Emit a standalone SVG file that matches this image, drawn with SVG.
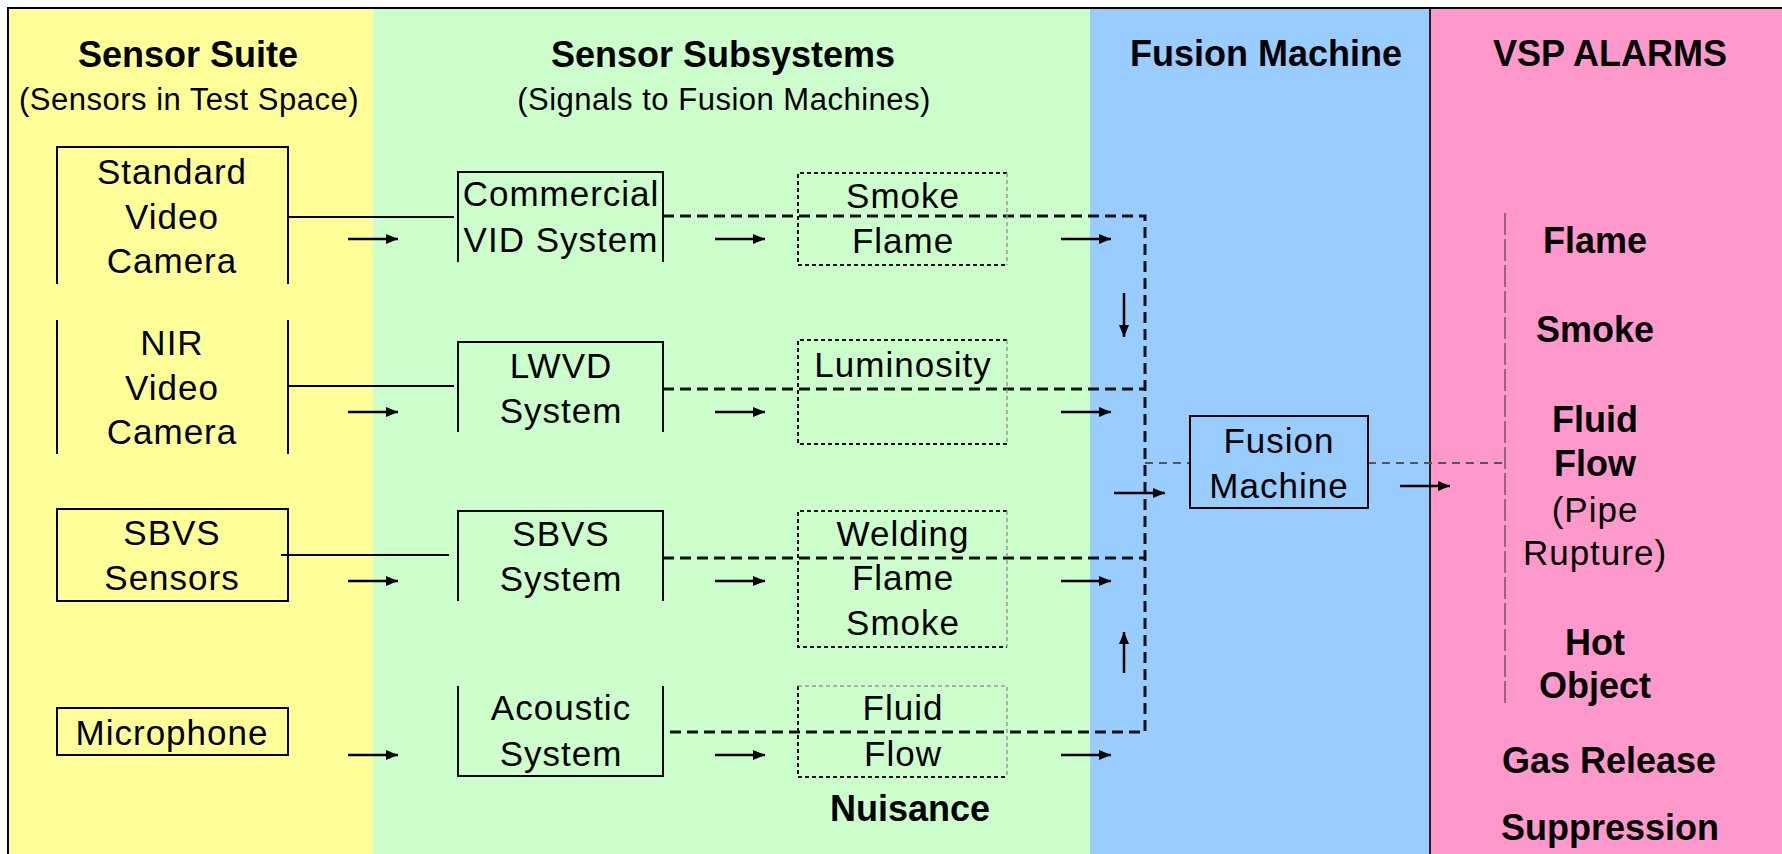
<svg xmlns="http://www.w3.org/2000/svg" width="1782" height="854" viewBox="0 0 1782 854">
  <style>
    text { font-family: "Liberation Sans", Arial, sans-serif; fill: #000; text-anchor: middle; }
    .h { font-size: 36px; font-weight: bold; }
    .sub { font-size: 31px; letter-spacing: 0.5px; }
    .t { font-size: 35px; letter-spacing: 1px; }
    .a { font-size: 36px; font-weight: bold; }
    .box { fill: none; stroke: #000; stroke-width: 2; }
    .dot { fill: none; stroke: #111; stroke-width: 2; stroke-dasharray: 4 3; }
    .dotl { fill: none; stroke: #9a9a9a; stroke-width: 1.5; stroke-dasharray: 4 3; }
    .wire { fill: none; stroke: #000; stroke-width: 2; }
    .dash { fill: none; stroke: #111; stroke-width: 3; stroke-dasharray: 11 6; }
    .gdash { fill: none; stroke: #555; stroke-width: 2; stroke-dasharray: 8 6; }
    .dd { fill: none; stroke: #333; stroke-width: 1; stroke-dasharray: 22 4; }
    .arr { fill: none; stroke: #000; stroke-width: 2.5; marker-end: url(#head); }
  </style>
  <defs>
    <marker id="head" markerUnits="userSpaceOnUse" markerWidth="12" markerHeight="10" refX="12" refY="5" orient="auto">
      <path d="M0,0 L12,5 L0,10 z" fill="#000"/>
    </marker>
  </defs>

  <!-- background bands -->
  <g id="bands">
    <rect x="8" y="8" width="365" height="860" fill="#FFFF99"/>
    <rect x="373" y="8" width="717" height="860" fill="#CCFFCC"/>
    <rect x="1090" y="8" width="340" height="860" fill="#99CCFF"/>
    <rect x="1430" y="8" width="360" height="860" fill="#FF99CC"/>
    <line x1="1430" y1="8" x2="1430" y2="860" stroke="#222" stroke-width="2"/>
    <rect x="8" y="8" width="1790" height="860" fill="none" stroke="#000" stroke-width="2"/>
  </g>

  <!-- column headings -->
  <g id="headings">
    <text class="h" x="188" y="67">Sensor Suite</text>
    <text class="sub" x="189" y="110">(Sensors in Test Space)</text>
    <text class="h" x="723" y="67">Sensor Subsystems</text>
    <text class="sub" x="724" y="110">(Signals to Fusion Machines)</text>
    <text class="h" x="1266" y="66">Fusion Machine</text>
    <text class="h" x="1610" y="66">VSP ALARMS</text>
  </g>

  <!-- connectors -->
  <g id="connectors">
    <line class="wire" x1="288" y1="217" x2="454" y2="217"/>
    <line class="wire" x1="288" y1="386" x2="454" y2="386"/>
    <line class="wire" x1="281" y1="555" x2="449" y2="555"/>

    <path class="dash" d="M663,216 H1145 V732 H663"/>
    <path class="dash" d="M663,389 H1145"/>
    <path class="dash" d="M663,558 H1145"/>

    <path class="gdash" d="M1145,463 H1190"/>
    <path class="gdash" d="M1368,463 H1505"/>
    <path class="dd" d="M1505,213 V705"/>

    <line class="arr" x1="348" y1="239" x2="398" y2="239"/>
    <line class="arr" x1="715" y1="239" x2="765" y2="239"/>
    <line class="arr" x1="1061" y1="239" x2="1111" y2="239"/>
    <line class="arr" x1="348" y1="412" x2="398" y2="412"/>
    <line class="arr" x1="715" y1="412" x2="765" y2="412"/>
    <line class="arr" x1="1061" y1="412" x2="1111" y2="412"/>
    <line class="arr" x1="348" y1="581" x2="398" y2="581"/>
    <line class="arr" x1="715" y1="581" x2="765" y2="581"/>
    <line class="arr" x1="1061" y1="581" x2="1111" y2="581"/>
    <line class="arr" x1="348" y1="755" x2="398" y2="755"/>
    <line class="arr" x1="715" y1="755" x2="765" y2="755"/>
    <line class="arr" x1="1061" y1="755" x2="1111" y2="755"/>
    <line class="arr" x1="1124" y1="293" x2="1124" y2="337"/>
    <line class="arr" x1="1124" y1="673" x2="1124" y2="632"/>
    <line class="arr" x1="1114" y1="493" x2="1165" y2="493"/>
    <line class="arr" x1="1400" y1="486" x2="1450" y2="486"/>
  </g>

  <!-- sensor suite -->
  <g id="standard-camera">
    <path class="box" d="M57,284 V147 H288 V284"/>
    <text class="t" x="172" y="184">Standard</text>
    <text class="t" x="172" y="229">Video</text>
    <text class="t" x="172" y="273">Camera</text>
  </g>
  <g id="nir-camera">
    <path class="box" d="M57,320 V454 M288,320 V454"/>
    <text class="t" x="172" y="355">NIR</text>
    <text class="t" x="172" y="400">Video</text>
    <text class="t" x="172" y="444">Camera</text>
  </g>
  <g id="sbvs-sensors">
    <rect class="box" x="57" y="509" width="231" height="92"/>
    <text class="t" x="172" y="545">SBVS</text>
    <text class="t" x="172" y="590">Sensors</text>
  </g>
  <g id="microphone">
    <rect class="box" x="57" y="708" width="231" height="47"/>
    <text class="t" x="172" y="745">Microphone</text>
  </g>

  <!-- sensor subsystems -->
  <g id="commercial-vid">
    <path class="box" d="M458,262 V172 H663 V262"/>
    <text class="t" x="561" y="206">Commercial</text>
    <text class="t" x="561" y="252">VID System</text>
  </g>
  <g id="lwvd-system">
    <path class="box" d="M458,432 V342 H663 V432"/>
    <text class="t" x="561" y="378">LWVD</text>
    <text class="t" x="561" y="423">System</text>
  </g>
  <g id="sbvs-system">
    <path class="box" d="M458,601 V511 H663 V601"/>
    <text class="t" x="561" y="546">SBVS</text>
    <text class="t" x="561" y="591">System</text>
  </g>
  <g id="acoustic-system">
    <path class="box" d="M458,686 V776 H663 V686"/>
    <text class="t" x="561" y="720">Acoustic</text>
    <text class="t" x="561" y="766">System</text>
  </g>

  <!-- nuisance classes -->
  <g id="smoke-flame">
    <path class="dot" d="M1007,173 H798 V265 H1007"/>
    <path class="dotl" d="M1007,173 V265"/>
    <text class="t" x="903" y="208">Smoke</text>
    <text class="t" x="903" y="253">Flame</text>
  </g>
  <g id="luminosity">
    <path class="dot" d="M1007,340 H798 V444 H1007"/>
    <path class="dotl" d="M1007,340 V444"/>
    <text class="t" x="903" y="377">Luminosity</text>
  </g>
  <g id="welding-flame-smoke">
    <path class="dot" d="M1007,511 H798 V647 H1007"/>
    <path class="dotl" d="M1007,511 V647"/>
    <text class="t" x="903" y="546">Welding</text>
    <text class="t" x="903" y="590">Flame</text>
    <text class="t" x="903" y="635">Smoke</text>
  </g>
  <g id="fluid-flow">
    <path class="dot" d="M798,686 V777 H1007"/>
    <path class="dotl" d="M798,686 H1007 V777"/>
    <text class="t" x="903" y="720">Fluid</text>
    <text class="t" x="903" y="766">Flow</text>
  </g>
  <g id="nuisance-label">
    <text class="a" x="910" y="821">Nuisance</text>
  </g>

  <!-- fusion -->
  <g id="fusion-machine">
    <rect class="box" x="1190" y="416" width="178" height="92"/>
    <text class="t" x="1279" y="453">Fusion</text>
    <text class="t" x="1279" y="498">Machine</text>
  </g>

  <!-- alarms -->
  <g id="alarms">
    <text class="a" x="1595" y="253">Flame</text>
    <text class="a" x="1595" y="342">Smoke</text>
    <text class="a" x="1595" y="432">Fluid</text>
    <text class="a" x="1595" y="476">Flow</text>
    <text class="t" x="1595" y="522">(Pipe</text>
    <text class="t" x="1595" y="565">Rupture)</text>
    <text class="a" x="1595" y="655">Hot</text>
    <text class="a" x="1595" y="698">Object</text>
    <text class="a" x="1609" y="773">Gas Release</text>
    <text class="a" x="1610" y="840">Suppression</text>
  </g>
</svg>
